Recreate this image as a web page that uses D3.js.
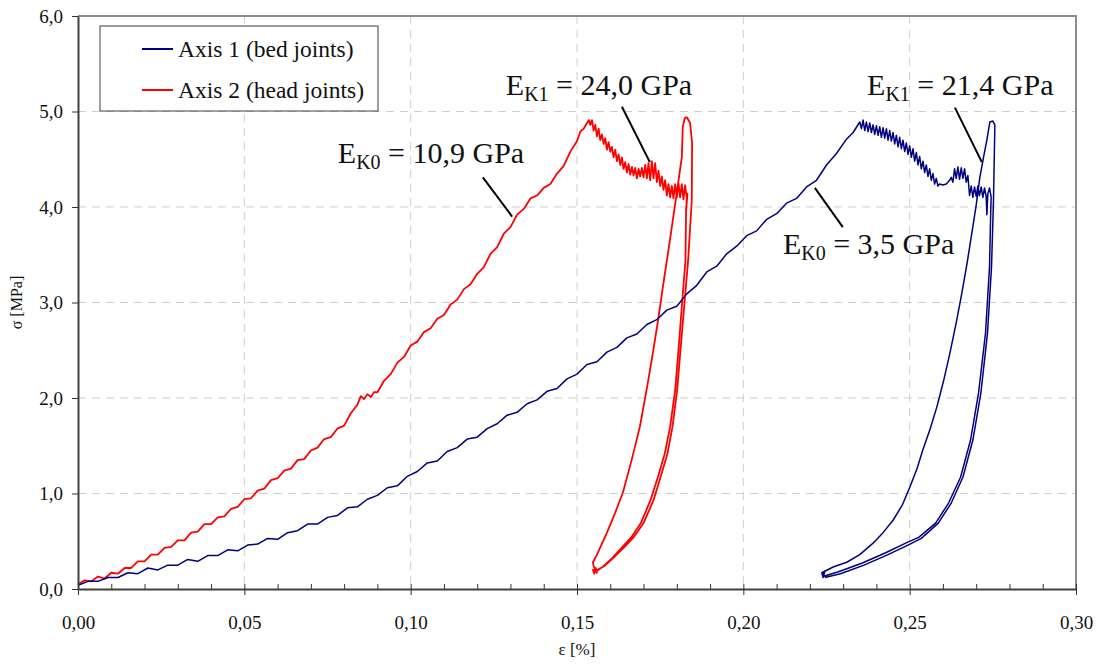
<!DOCTYPE html>
<html>
<head>
<meta charset="utf-8">
<script src="https://cdn.jsdelivr.net/npm/d3@7"></script>
<style>
  html, body { margin: 0; padding: 0; background: #fff; }
  svg { display: block; font-family: "Liberation Serif", "Times New Roman", serif; }
</style>
</head>
<body>
<svg id="chart" width="1101" height="664"></svg>
<script>
// Strain ε [%] and stress σ [MPa], pairs of [ε, σ]

// Axis 2 (head joints)
const axis2Loading = [[0.000,0.05],[0.002,0.09],[0.004,0.08],[0.006,0.13],[0.008,0.11],[0.010,0.17],[0.012,0.16],[0.014,0.22],[0.016,0.22],[0.018,0.29],[0.020,0.29],[0.022,0.36],[0.024,0.36],[0.026,0.43],[0.028,0.44],[0.030,0.51],[0.032,0.51],[0.034,0.59],[0.036,0.60],[0.038,0.68],[0.040,0.68],[0.042,0.75],[0.044,0.76],[0.046,0.84],[0.048,0.86],[0.050,0.94],[0.052,0.95],[0.054,1.03],[0.056,1.05],[0.058,1.14],[0.060,1.16],[0.062,1.24],[0.064,1.26],[0.066,1.35],[0.068,1.36],[0.070,1.45],[0.072,1.48],[0.074,1.57],[0.076,1.59],[0.078,1.68],[0.080,1.71],[0.082,1.84],[0.084,1.93],[0.085,2.02],[0.086,1.99],[0.087,2.04],[0.088,2.01],[0.089,2.06],[0.090,2.06],[0.092,2.18],[0.094,2.25],[0.096,2.37],[0.098,2.43],[0.100,2.55],[0.102,2.59],[0.104,2.69],[0.106,2.73],[0.108,2.83],[0.110,2.87],[0.112,2.98],[0.114,3.03],[0.116,3.14],[0.118,3.19],[0.120,3.30],[0.122,3.37],[0.124,3.51],[0.126,3.58],[0.128,3.72],[0.130,3.79],[0.132,3.92],[0.134,3.98],[0.136,4.09],[0.138,4.12],[0.140,4.20],[0.142,4.24],[0.144,4.35],[0.146,4.43],[0.148,4.58],[0.150,4.69],[0.151,4.79],[0.152,4.82],[0.153,4.88],[0.1536,4.91]];
const axis2Softening = [[0.1540,4.86],[0.1545,4.91],[0.1550,4.80],[0.1555,4.86],[0.1560,4.74],[0.1565,4.82],[0.1570,4.70],[0.1575,4.76],[0.1580,4.66],[0.1585,4.72],[0.1590,4.60],[0.1595,4.68],[0.1600,4.58],[0.1605,4.63],[0.1610,4.52],[0.1615,4.60],[0.1620,4.48],[0.1625,4.55],[0.1630,4.44],[0.1635,4.52],[0.1640,4.40],[0.1645,4.47],[0.1650,4.36],[0.1655,4.45],[0.1660,4.34],[0.1665,4.42],[0.1670,4.33],[0.1675,4.41],[0.1680,4.30],[0.1685,4.40],[0.1690,4.32],[0.1695,4.41],[0.1700,4.31],[0.1705,4.44],[0.1710,4.30],[0.1715,4.46],[0.1720,4.28],[0.1725,4.48],[0.1730,4.30],[0.1735,4.46],[0.1740,4.26],[0.1745,4.38],[0.1750,4.22],[0.1755,4.32],[0.1760,4.18],[0.1765,4.28],[0.1770,4.12],[0.1775,4.24],[0.1780,4.10],[0.1785,4.22],[0.1790,4.09],[0.1795,4.24],[0.1800,4.10],[0.1805,4.25],[0.1810,4.10],[0.1815,4.24],[0.1820,4.08],[0.1825,4.23],[0.1830,4.09],[0.1828,3.96],[0.1832,4.14]];
const axis2Unload1 = [[0.1828,3.98],[0.1826,3.44],[0.1815,2.95],[0.1805,2.50],[0.1795,2.08],[0.1780,1.70],[0.1764,1.42],[0.1743,1.17],[0.1721,0.93],[0.1692,0.69],[0.1663,0.54],[0.1634,0.43],[0.1605,0.32],[0.1577,0.23],[0.1560,0.19],[0.1548,0.20],[0.1552,0.16],[0.1556,0.22],[0.1560,0.17],[0.1550,0.24],[0.1548,0.28]];
const axis2Reload = [[0.1560,0.36],[0.1590,0.59],[0.1615,0.80],[0.1638,1.01],[0.1665,1.36],[0.1689,1.70],[0.1710,2.10],[0.1728,2.47],[0.1744,2.82],[0.1758,3.16],[0.1772,3.48],[0.1785,3.79],[0.1800,4.15],[0.1815,4.52],[0.1818,4.84],[0.1824,4.93],[0.1830,4.94],[0.1840,4.88],[0.1846,4.67]];
const axis2Unload2 = [[0.1845,4.07],[0.1834,3.44],[0.1822,2.95],[0.1811,2.50],[0.1801,2.08],[0.1787,1.70],[0.1772,1.42],[0.1751,1.17],[0.1730,0.93],[0.1700,0.69],[0.1670,0.54],[0.1640,0.43],[0.1610,0.33],[0.1582,0.24],[0.1562,0.20],[0.1552,0.18]];

// Axis 1 (bed joints)
const axis1Loading = [[0.000,0.04],[0.003,0.08],[0.006,0.08],[0.009,0.12],[0.012,0.12],[0.015,0.17],[0.018,0.16],[0.021,0.22],[0.024,0.20],[0.027,0.25],[0.030,0.25],[0.033,0.31],[0.036,0.29],[0.039,0.35],[0.042,0.35],[0.045,0.41],[0.048,0.40],[0.051,0.46],[0.054,0.47],[0.057,0.53],[0.060,0.52],[0.063,0.59],[0.066,0.61],[0.069,0.68],[0.072,0.68],[0.075,0.75],[0.078,0.77],[0.081,0.85],[0.084,0.86],[0.087,0.94],[0.090,0.98],[0.093,1.06],[0.096,1.08],[0.099,1.18],[0.102,1.23],[0.105,1.32],[0.108,1.34],[0.111,1.44],[0.114,1.48],[0.117,1.57],[0.120,1.59],[0.123,1.68],[0.126,1.73],[0.129,1.82],[0.132,1.85],[0.135,1.94],[0.138,1.98],[0.141,2.07],[0.144,2.10],[0.147,2.20],[0.150,2.25],[0.153,2.35],[0.156,2.38],[0.159,2.48],[0.162,2.53],[0.165,2.63],[0.168,2.67],[0.171,2.77],[0.174,2.82],[0.177,2.92],[0.180,2.96],[0.183,3.09],[0.186,3.18],[0.189,3.32],[0.192,3.38],[0.195,3.51],[0.198,3.59],[0.201,3.70],[0.204,3.75],[0.207,3.87],[0.210,3.93],[0.213,4.04],[0.216,4.09],[0.219,4.21],[0.222,4.28],[0.225,4.44],[0.228,4.56],[0.231,4.71],[0.233,4.78],[0.235,4.89]];
const axis1Softening = [[0.2355,4.82],[0.2360,4.91],[0.2365,4.80],[0.2370,4.89],[0.2375,4.79],[0.2380,4.88],[0.2385,4.78],[0.2390,4.86],[0.2395,4.76],[0.2400,4.85],[0.2405,4.75],[0.2410,4.84],[0.2415,4.73],[0.2420,4.83],[0.2425,4.72],[0.2430,4.82],[0.2435,4.70],[0.2440,4.80],[0.2445,4.69],[0.2450,4.78],[0.2455,4.66],[0.2460,4.75],[0.2465,4.63],[0.2470,4.73],[0.2475,4.61],[0.2480,4.70],[0.2485,4.58],[0.2490,4.67],[0.2495,4.55],[0.2500,4.64],[0.2505,4.52],[0.2510,4.61],[0.2515,4.48],[0.2520,4.57],[0.2525,4.44],[0.2530,4.53],[0.2535,4.40],[0.2540,4.48],[0.2545,4.36],[0.2550,4.44],[0.2555,4.32],[0.2560,4.40],[0.2565,4.28],[0.2570,4.35],[0.2575,4.24],[0.2580,4.30],[0.2585,4.22],[0.2590,4.24],[0.2600,4.23],[0.2610,4.24],[0.2620,4.28],[0.2625,4.31],[0.2630,4.26],[0.2635,4.40],[0.2640,4.30],[0.2645,4.42],[0.2650,4.29],[0.2655,4.41],[0.2660,4.30],[0.2665,4.40],[0.2670,4.26],[0.2675,4.33],[0.2680,4.12],[0.2685,4.22],[0.2690,4.10],[0.2695,4.21],[0.2700,4.11],[0.2705,4.22],[0.2710,4.12],[0.2715,4.21],[0.2720,4.10],[0.2725,4.20],[0.2730,4.11],[0.2732,3.92],[0.2735,4.14],[0.2740,4.20],[0.2745,4.10]];
const axis1Unload1 = [[0.2744,4.00],[0.2740,3.37],[0.2728,2.68],[0.2707,2.05],[0.2683,1.56],[0.2653,1.17],[0.2617,0.90],[0.2578,0.69],[0.2527,0.54],[0.2488,0.48],[0.2428,0.38],[0.2356,0.27],[0.2286,0.18],[0.2239,0.13],[0.2236,0.17],[0.2240,0.12],[0.2245,0.19],[0.2238,0.15]];
const axis1Reload = [[0.2236,0.17],[0.2270,0.23],[0.2311,0.28],[0.2350,0.36],[0.2390,0.48],[0.2420,0.59],[0.2450,0.72],[0.2478,0.88],[0.2501,1.07],[0.2522,1.26],[0.2540,1.46],[0.2562,1.68],[0.2582,1.91],[0.2602,2.18],[0.2621,2.47],[0.2640,2.79],[0.2657,3.10],[0.2673,3.42],[0.2687,3.73],[0.2700,4.02],[0.2711,4.31],[0.2722,4.52],[0.2732,4.70],[0.2741,4.89],[0.2750,4.90],[0.2756,4.86]];
const axis1Unload2 = [[0.2756,4.84],[0.2752,4.07],[0.2746,3.37],[0.2734,2.68],[0.2714,2.05],[0.2690,1.56],[0.2660,1.17],[0.2625,0.90],[0.2586,0.69],[0.2535,0.53],[0.2495,0.46],[0.2435,0.36],[0.2363,0.25],[0.2292,0.16],[0.2245,0.12]];

const seriesNames = ["Axis 1 (bed joints)", "Axis 2 (head joints)"];
const xTicks = [0, 0.05, 0.10, 0.15, 0.20, 0.25, 0.30];
const yTicks = [0, 1, 2, 3, 4, 5, 6];

// Stiffness labels: text anchor and leader line, in data units
const annotations = [
  { sub: "K0", rest: " = 10,9 GPa", at: [0.0781, 4.46], from: [0.1217, 4.31], to: [0.1305, 3.90] },
  { sub: "K1", rest: " = 24,0 GPa", at: [0.1286, 5.17], from: [0.1635, 5.05], to: [0.1719, 4.47] },
  { sub: "K1", rest: " = 21,4 GPa", at: [0.2372, 5.17], from: [0.2636, 5.04], to: [0.2717, 4.47] },
  { sub: "K0", rest: " = 3,5 GPa",  at: [0.2119, 3.51], from: [0.2215, 4.20], to: [0.2299, 3.79] }
];

const colors = { axis1: "#000080", axis2: "#ff0000" };

(function draw() {
  const svg = d3.select("#chart");
  const plotLeft = 78, plotRight = 1076, plotTop = 16, plotBottom = 589;
  const x = d3.scaleLinear().domain([0, 0.30]).range([plotLeft, plotRight]);
  const y = d3.scaleLinear().domain([0, 6]).range([plotBottom, plotTop]);
  const comma = v => v.toFixed(2).replace(".", ",");

  // grid
  const grid = svg.append("g").attr("stroke", "#cfcfcf").attr("stroke-width", 1).attr("stroke-dasharray", "8,6");
  grid.selectAll("line.v").data(xTicks.slice(1, -1)).join("line").attr("class", "v")
    .attr("x1", d => x(d)).attr("x2", d => x(d)).attr("y1", y(6)).attr("y2", y(0));
  grid.selectAll("line.h").data(yTicks.slice(1, -1)).join("line").attr("class", "h")
    .attr("x1", x(0)).attr("x2", x(0.30)).attr("y1", d => y(d)).attr("y2", d => y(d));

  // frame (top and right)
  svg.append("path")
    .attr("d", `M${x(0)},${y(6)}H${x(0.30)}V${y(0)}`)
    .attr("fill", "none").attr("stroke", "#8c8c8c").attr("stroke-width", 2);

  // curves
  const line = d3.line().x(d => x(d[0])).y(d => y(d[1]));
  const axis2Path = [].concat(axis2Loading, axis2Softening, axis2Unload1, axis2Reload, axis2Unload2);
  const axis1Path = [].concat(axis1Loading, axis1Softening, axis1Unload1, axis1Reload, axis1Unload2);
  svg.append("path").datum(axis2Path).attr("d", line)
    .attr("fill", "none").attr("stroke", colors.axis2).attr("stroke-width", 1.8).attr("stroke-linejoin", "round");
  svg.append("path").datum(axis1Path).attr("d", line)
    .attr("fill", "none").attr("stroke", colors.axis1).attr("stroke-width", 1.5).attr("stroke-linejoin", "round");

  // x axis: minor ticks inside, major ticks crossing
  const minor = d3.range(1, 30).map(i => i / 100).filter(v => Math.abs(v * 20 - Math.round(v * 20)) > 1e-9);
  svg.append("g").attr("transform", `translate(0,${plotBottom})`)
    .call(d3.axisBottom(x).tickValues(minor).tickSize(-5).tickFormat(""))
    .call(g => g.select(".domain").remove())
    .call(g => g.selectAll(".tick line").attr("stroke", "#333").attr("stroke-width", 1));
  const xAxis = svg.append("g").attr("transform", `translate(0,${plotBottom})`)
    .call(d3.axisBottom(x).tickValues(xTicks).tickSize(6).tickSizeOuter(0).tickPadding(21).tickFormat(comma));
  xAxis.select(".domain").attr("stroke", "#404040").attr("stroke-width", 2);
  xAxis.selectAll(".tick line").attr("y1", -5).attr("stroke", "#333").attr("stroke-width", 1);
  xAxis.selectAll(".tick text").attr("font-size", 19).attr("font-family", "Liberation Serif, serif").attr("fill", "#111");

  const yAxis = svg.append("g").attr("transform", `translate(${plotLeft},0)`)
    .call(d3.axisLeft(y).tickValues(yTicks).tickSize(6).tickSizeOuter(0).tickPadding(9).tickFormat(d => d.toFixed(1).replace(".", ",")));
  yAxis.select(".domain").attr("stroke", "#404040").attr("stroke-width", 2);
  yAxis.selectAll(".tick line").attr("stroke", "#333").attr("stroke-width", 1);
  yAxis.selectAll(".tick text").attr("font-size", 19).attr("font-family", "Liberation Serif, serif").attr("fill", "#111");

  // axis titles
  svg.append("text").attr("x", (plotLeft + plotRight) / 2).attr("y", 655).attr("text-anchor", "middle")
    .attr("font-size", 17).attr("fill", "#111").text("ε [%]");
  svg.append("text").attr("transform", `translate(22,${(plotTop + plotBottom) / 2}) rotate(-90)`).attr("text-anchor", "middle")
    .attr("font-size", 16).attr("fill", "#111").text("σ [MPa]");

  // annotations
  const ann = svg.append("g");
  annotations.forEach(a => {
    ann.append("line")
      .attr("x1", x(a.from[0])).attr("y1", y(a.from[1]))
      .attr("x2", x(a.to[0])).attr("y2", y(a.to[1]))
      .attr("stroke", "#000").attr("stroke-width", 2);
    const t = ann.append("text").attr("x", x(a.at[0])).attr("y", y(a.at[1]))
      .attr("font-size", 30).attr("fill", "#111");
    t.append("tspan").text("E");
    t.append("tspan").attr("font-size", 20).attr("dy", 6).text(a.sub);
    t.append("tspan").attr("dy", -6).text(a.rest);
  });

  // legend
  const lg = svg.append("g");
  lg.append("rect").attr("x", 100).attr("y", 26).attr("width", 278).attr("height", 85)
    .attr("fill", "#fff").attr("stroke", "#404040").attr("stroke-width", 1);
  [[colors.axis1, 49, 57], [colors.axis2, 90, 98]].forEach((c, i) => {
    lg.append("line").attr("x1", 142).attr("x2", 173).attr("y1", c[1]).attr("y2", c[1])
      .attr("stroke", c[0]).attr("stroke-width", 2);
    lg.append("text").attr("x", 178).attr("y", c[2]).attr("font-size", 23.5).attr("fill", "#111").text(seriesNames[i]);
  });
})();
</script>
</body>
</html>
